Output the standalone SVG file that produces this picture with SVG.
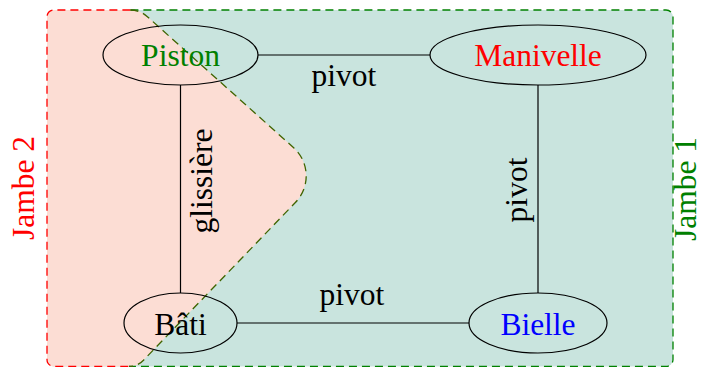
<svg xmlns="http://www.w3.org/2000/svg" width="704" height="367" viewBox="0 0 704 367">
<style>
  text { font-family: "Liberation Serif", "Times New Roman", serif; font-size: 31.5px; }
  .node { fill: none; stroke: #000; stroke-width: 1.2; }
  .edge { stroke: #000; stroke-width: 1.2; fill: none; }
  .dash { fill: none; stroke-width: 1.3; stroke-dasharray: 8 5; }
  .mid { text-anchor: middle; }
</style>
<g id="regions">
  <rect x="47" y="10" width="626" height="356.5" rx="7" fill="#c9e4de"/>
  <path d="M 54,10 L 130.4,10 A 25 25 0 0 1 147.1,16.4 L 293.4,147.5 A 38 38 0 0 1 295.4,202.5 L 143.5,360.2 A 20 20 0 0 1 129,366.5 L 54,366.5 A 7 7 0 0 1 47,359.5 L 47,17 A 7 7 0 0 1 54,10 Z" fill="#fcddd4"/>
  <path class="dash" stroke="#008000" d="M 130.4,10 L 666,10 A 7 7 0 0 1 673,17 L 673,359.5 A 7 7 0 0 1 666,366.5 L 129,366.5"/>
  <path class="dash" stroke="#ff0000" d="M 130.4,10 L 54,10 A 7 7 0 0 0 47,17 L 47,359.5 A 7 7 0 0 0 54,366.5 L 129,366.5"/>
  <path class="dash" stroke="#3f6400" d="M 130.4,10 A 25 25 0 0 1 147.1,16.4 L 293.4,147.5 A 38 38 0 0 1 295.4,202.5 L 143.5,360.2 A 20 20 0 0 1 129,366.5"/>
  <text class="mid" fill="#ff0000" transform="translate(34,188) rotate(-90)">Jambe 2</text>
  <text class="mid" fill="#008000" transform="translate(696,189) rotate(-90)">Jambe 1</text>
</g>
<g id="connectors">
  <line class="edge" x1="258" y1="55" x2="430" y2="55"/>
  <text class="mid" x="344" y="86">pivot</text>
  <line class="edge" x1="180.5" y1="85" x2="180.5" y2="293"/>
  <text class="mid" transform="translate(212,181) rotate(-90)">glissière</text>
  <line class="edge" x1="538" y1="85" x2="538" y2="293"/>
  <text class="mid" transform="translate(527,190) rotate(-90)">pivot</text>
  <line class="edge" x1="237" y1="323" x2="469" y2="323"/>
  <text class="mid" x="352" y="305">pivot</text>
</g>
<g id="piston">
  <ellipse class="node" cx="180.5" cy="55" rx="77.5" ry="30"/>
  <text class="mid" x="180.5" y="66" fill="#008000">Piston</text>
</g>
<g id="manivelle">
  <ellipse class="node" cx="538" cy="55" rx="108" ry="30"/>
  <text class="mid" x="538" y="66" fill="#ff0000">Manivelle</text>
</g>
<g id="bati">
  <ellipse class="node" cx="180.5" cy="323" rx="56.5" ry="30"/>
  <text class="mid" x="180.5" y="335" fill="#000">Bâti</text>
</g>
<g id="bielle">
  <ellipse class="node" cx="538" cy="323" rx="69" ry="30"/>
  <text class="mid" x="538" y="335" fill="#0000ff">Bielle</text>
</g>
</svg>
